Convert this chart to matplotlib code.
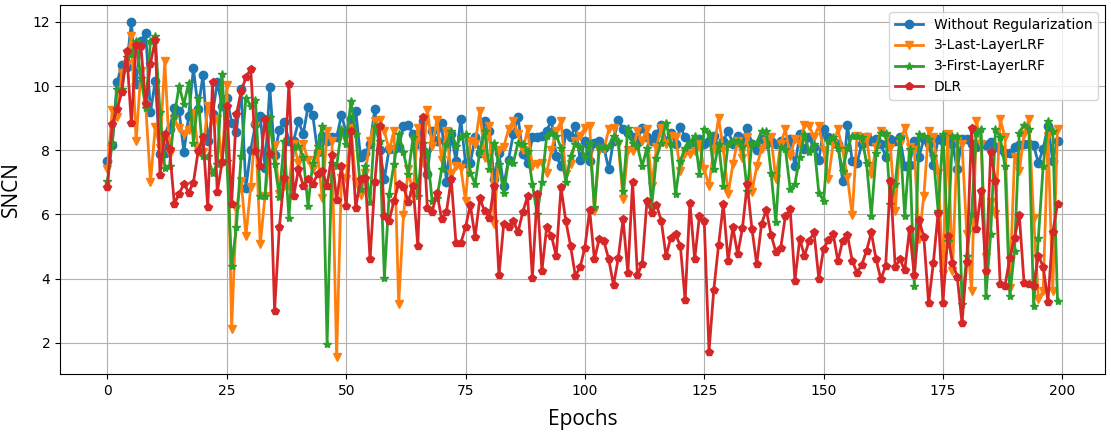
import numpy as np
import matplotlib.pyplot as plt

epochs = np.arange(200)

without_reg = [
    7.67, 8.17, 10.11, 10.66, 10.6, 12.0, 10.06, 11.4, 11.65, 9.18,
    10.16, 7.88, 7.9, 8.66, 9.33, 9.23, 7.93, 9.07, 10.55, 9.28,
    10.35, 8.29, 9.12, 10.11, 9.38, 9.64, 8.86, 8.57, 9.9, 6.82,
    8.01, 8.81, 9.07, 7.46, 9.97, 7.85, 8.64, 8.89, 8.3, 8.3,
    8.9, 8.5, 9.35, 9.1, 7.95, 8.45, 8.3, 8.4, 8.4, 9.1,
    8.55, 8.97, 9.23, 7.8, 7.9, 8.2, 9.28, 8.0, 7.1, 8.05,
    8.05, 8.1, 8.75, 8.8, 8.5, 8.2, 8.9, 7.25, 8.6, 8.3,
    8.84, 7.0, 8.5, 7.67, 8.97, 7.6, 7.6, 8.4, 7.9, 8.9,
    8.6, 7.1, 7.9, 6.9, 7.7, 8.5, 9.03, 7.87, 7.6, 8.4,
    8.4, 8.45, 8.6, 8.94, 7.82, 7.5, 8.55, 8.4, 8.76, 7.69,
    8.3, 7.67, 8.24, 8.3, 8.08, 7.4, 8.3, 8.94, 8.65, 8.55,
    8.42, 8.3, 8.7, 8.4, 8.3, 8.5, 8.8, 8.3, 8.55, 8.2,
    8.73, 8.4, 8.2, 8.3, 8.35, 8.2, 8.3, 8.45, 8.1, 8.3,
    8.6, 8.2, 8.45, 8.3, 8.7, 8.2, 8.0, 8.35, 8.2, 8.3,
    8.2, 8.3, 8.25, 8.35, 7.5, 8.5, 8.05, 8.4, 8.1, 7.7,
    8.65, 8.4, 8.3, 8.2, 7.05, 8.77, 7.67, 7.6, 8.2, 8.4,
    8.3, 8.35, 8.2, 7.8, 8.35, 8.3, 8.4, 7.5, 7.55, 8.3,
    7.8, 8.35, 8.2, 7.55, 8.35, 8.3, 8.4, 8.2, 7.4, 8.35,
    8.35, 8.2, 8.1, 8.2, 8.15, 8.25, 8.1, 8.05, 7.9, 7.9,
    8.1, 8.15, 8.2, 8.2, 8.15, 7.6, 8.05, 8.75, 7.67, 8.3,
]

last_lrf = [
    7.4, 9.25, 9.02, 10.42, 10.68, 11.56, 8.28, 10.47, 9.4, 7.0,
    8.71, 8.08, 10.78, 7.88, 8.97, 8.7, 8.52, 8.62, 9.17, 8.0,
    7.93, 9.38, 8.9, 8.97, 7.6, 10.04, 2.43, 6.16, 7.05, 5.33,
    6.84, 8.76, 5.07, 6.58, 7.9, 8.15, 6.63, 6.9, 6.9, 8.2,
    7.6, 8.2, 7.7, 7.4, 7.9, 6.5, 8.6, 8.3, 1.55, 7.15,
    7.1, 8.7, 7.0, 6.6, 7.3, 8.3, 8.9, 8.95, 8.6, 8.0,
    8.6, 3.2, 5.98, 7.4, 6.6, 8.7, 7.6, 9.25, 8.13, 8.95,
    7.7, 8.6, 7.25, 7.5, 7.46, 6.42, 8.3, 8.2, 9.23, 7.77,
    8.75, 5.7, 8.0, 8.1, 8.65, 8.92, 8.5, 8.0, 8.65, 7.5,
    7.56, 7.6, 7.3, 8.0, 8.6, 8.9, 7.25, 7.56, 8.3, 8.45,
    8.7, 8.75, 6.1, 8.0, 8.03, 8.65, 8.7, 8.2, 6.47, 8.0,
    7.98, 8.6, 8.3, 8.65, 6.9, 8.1, 8.7, 8.2, 8.45, 8.4,
    7.36, 7.9, 7.88, 7.98, 8.2, 7.4, 6.9, 8.05, 9.0, 8.05,
    6.63, 7.56, 8.3, 7.77, 8.4, 6.7, 7.5, 8.05, 8.3, 8.4,
    7.1, 8.2, 8.65, 7.83, 8.35, 8.2, 8.8, 8.76, 8.4, 8.76,
    8.0, 7.1, 8.2, 8.65, 8.0, 7.16, 5.98, 8.45, 8.3, 8.4,
    7.26, 8.1, 8.6, 8.4, 8.08, 6.1, 8.2, 8.7, 8.1, 8.0,
    5.23, 6.58, 8.6, 8.4, 7.3, 4.14, 8.5, 4.24, 8.3, 8.2,
    5.38, 3.62, 8.92, 8.2, 4.66, 6.4, 6.0, 8.97, 8.4, 3.72,
    7.8, 7.36, 8.5, 8.97, 5.9, 3.36, 3.62, 8.45, 3.62, 8.65,
]

first_lrf = [
    7.05, 8.24, 9.9, 9.9, 10.9, 11.0, 11.4, 10.26, 9.33, 11.4,
    11.56, 9.18, 7.46, 7.51, 9.07, 10.0, 9.43, 10.1, 8.24, 9.64,
    7.82, 7.82, 7.3, 7.56, 10.37, 7.67, 4.4, 5.6, 7.82, 9.64,
    9.38, 9.56, 6.58, 6.58, 9.02, 7.58, 6.55, 8.3, 5.88, 8.1,
    8.14, 7.8, 6.27, 7.6, 8.13, 8.75, 1.96, 7.6, 7.5, 8.65,
    8.2, 9.54, 8.5, 6.8, 7.5, 6.4, 8.76, 8.3, 4.03, 6.63,
    7.56, 8.5, 7.93, 7.26, 8.4, 6.58, 8.24, 7.93, 6.42, 6.5,
    7.4, 8.2, 8.6, 8.13, 8.4, 8.5, 7.3, 6.95, 7.98, 8.6,
    7.4, 8.24, 7.56, 6.68, 7.67, 7.6, 8.24, 8.2, 7.98, 6.95,
    6.0, 7.0, 8.45, 8.55, 8.45, 8.08, 7.0, 7.82, 8.2, 8.1,
    7.8, 8.24, 6.22, 8.1, 8.1, 8.13, 8.45, 8.3, 6.73, 8.7,
    8.24, 8.13, 7.5, 8.08, 6.27, 7.77, 8.24, 8.86, 8.2, 6.63,
    7.67, 8.08, 8.24, 8.45, 7.26, 8.65, 8.55, 7.4, 8.2, 6.9,
    8.2, 8.3, 8.3, 8.13, 6.73, 8.24, 8.24, 8.6, 8.6, 7.3,
    5.75, 8.1, 8.03, 6.8, 6.95, 7.8, 8.5, 7.93, 8.2, 6.68,
    6.42, 8.3, 8.4, 8.08, 7.36, 8.08, 8.45, 8.45, 8.4, 7.6,
    5.96, 7.9, 8.55, 8.55, 6.32, 6.95, 8.4, 5.96, 8.03, 3.78,
    8.5, 8.45, 8.35, 7.82, 6.1, 8.5, 5.18, 8.45, 8.45, 3.2,
    4.7, 6.0, 8.55, 8.65, 3.46, 5.38, 8.65, 8.4, 7.5, 3.46,
    4.87, 8.55, 8.8, 8.65, 3.15, 5.28, 7.5, 8.9, 8.6, 3.3,
]

dlr = [
    6.86, 8.81, 9.28, 9.8, 11.1, 8.84, 11.27, 11.25, 9.43, 10.7,
    11.43, 7.23, 8.52, 8.03, 6.34, 6.63, 6.96, 6.68, 6.99, 7.98,
    8.42, 6.22, 10.11, 6.7, 7.62, 9.38, 6.34, 9.12, 9.83, 10.27,
    10.53, 7.98, 7.51, 8.97, 7.88, 3.0, 5.6, 7.14, 10.07, 6.58,
    7.4, 6.9, 7.1, 6.95, 7.25, 7.35, 6.9, 7.85, 6.45, 7.5,
    6.25, 8.6, 6.2, 7.1, 7.15, 4.6, 7.0, 8.76, 5.95, 5.8,
    6.42, 6.96, 6.86, 6.4, 6.9, 5.02, 9.04, 6.2, 6.08, 6.68,
    5.85, 6.08, 7.1, 5.1, 5.1, 5.6, 6.3, 5.3, 6.5, 6.1,
    5.9, 6.9, 4.1, 5.7, 5.6, 5.8, 5.45, 6.08, 6.57, 4.03,
    6.63, 4.24, 5.6, 5.33, 4.7, 6.84, 5.8, 5.02, 4.09, 4.35,
    4.97, 6.13, 4.6, 5.23, 5.16, 4.6, 3.8, 4.65, 5.85, 4.19,
    7.0, 4.12, 4.45, 6.42, 6.05, 6.3, 5.8, 4.7, 5.28, 5.38,
    5.02, 3.33, 6.37, 4.6, 5.95, 5.8, 1.73, 3.65, 5.04, 6.32,
    4.55, 5.6, 4.76, 5.57, 6.94, 5.54, 4.45, 5.7, 6.14, 5.36,
    4.84, 4.94, 5.95, 6.16, 3.94, 5.23, 4.72, 5.18, 5.44, 4.0,
    4.92, 5.2, 5.4, 4.55, 5.18, 5.36, 4.55, 4.19, 4.43, 4.87,
    5.44, 4.6, 3.98, 4.4, 7.05, 4.37, 4.6, 4.26, 5.54, 4.1,
    5.82, 5.3, 3.24, 4.5, 6.06, 3.24, 5.33, 4.5, 4.06, 2.61,
    4.53, 8.7, 5.54, 6.73, 4.24, 7.93, 7.05, 3.83, 3.78, 4.64,
    5.28, 5.99, 3.85, 3.83, 3.78, 4.71, 4.37, 3.28, 5.44, 6.32,
]

fig = plt.figure(figsize=(11.11, 4.36), dpi=100)
ax = fig.add_axes([0.054, 0.142, 0.9406, 0.8465])

ax.plot(epochs, without_reg, marker='o', c='tab:blue', lw=2, ms=6, label='Without Regularization')
ax.plot(epochs, last_lrf, marker='v', c='tab:orange', lw=2, ms=6, label='3-Last-LayerLRF')
ax.plot(epochs, first_lrf, marker='*', c='tab:green', lw=2, ms=6, label='3-First-LayerLRF')
ax.plot(epochs, dlr, marker='p', c='tab:red', lw=2, ms=6, label='DLR')

ax.set_xticks([0, 25, 50, 75, 100, 125, 150, 175, 200])
ax.set_yticks([2, 4, 6, 8, 10, 12])
ax.tick_params(labelsize=10)
ax.grid(True)
ax.set_xlabel('Epochs', fontsize=15, family=['Open Sans', 'DejaVu Sans'], labelpad=8)
ax.set_ylabel('SNCN', fontsize=15, family=['Open Sans', 'DejaVu Sans'], labelpad=8)
ax.legend(loc='upper right', fontsize=10)

plt.savefig('out.png')
